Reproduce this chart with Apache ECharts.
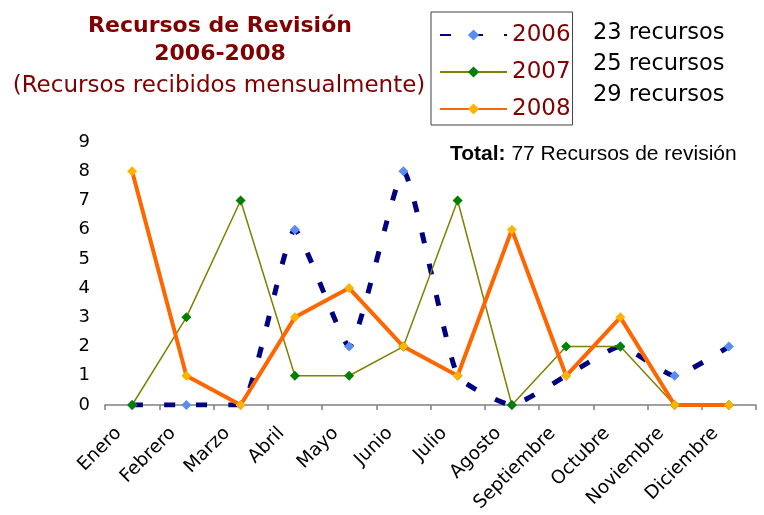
<!DOCTYPE html>
<html>
<head>
<meta charset="utf-8">
<script src="https://cdn.jsdelivr.net/npm/echarts@6/dist/echarts.min.js"></script>
<style>
  html, body { margin: 0; padding: 0; background: #fff; }
  #chart { width: 764px; height: 515px; }
</style>
</head>
<body>
<div id="chart"></div>
<script>
const months = ['Enero', 'Febrero', 'Marzo', 'Abril', 'Mayo', 'Junio', 'Julio', 'Agosto', 'Septiembre', 'Octubre', 'Noviembre', 'Diciembre']
const data2006 = [0, 0, 0, 6, 2, 8, 1, 0, 1, 2, 1, 2]
const data2007 = [0, 3, 7, 1, 1, 2, 7, 0, 2, 2, 0, 0]
const data2008 = [8, 1, 0, 3, 4, 2, 1, 6, 1, 3, 0, 0]
const yearNames = ['2006', '2007', '2008']
const totalsText = ['23 recursos', '25 recursos', '29 recursos']

const font = '"DejaVu Sans", Verdana, sans-serif'
const arial = '"Liberation Sans", Arial, sans-serif'
const dark = '#800000'

const chart = echarts.init(document.getElementById('chart'))

const option = {
  animation: false,
  title: [
    {
      text: 'Recursos de Revisión\n2006-2008',
      left: 215,
      top: 7,
      textAlign: 'center',
      textStyle: { fontFamily: font, fontSize: 22, fontWeight: 'bold', color: dark, lineHeight: 28 }
    },
    {
      text: '(Recursos recibidos mensualmente)',
      left: 214,
      top: 70,
      textAlign: 'center',
      textStyle: { fontFamily: font, fontSize: 23, fontWeight: 'normal', color: dark }
    },
    {
      text: '{b|Total:} 77 Recursos de revisión',
      left: 445,
      top: 139,
      textStyle: {
        fontFamily: arial, fontSize: 21, fontWeight: 'normal', color: '#000',
        rich: { b: { fontFamily: arial, fontSize: 21, fontWeight: 'bold', color: '#000' } }
      }
    }
  ],
  legend: {
    orient: 'vertical',
    left: 431,
    top: 12,
    data: yearNames,
    itemWidth: 67,
    itemHeight: 14,
    itemGap: 11,
    padding: [10, 2, 3, 8],
    borderColor: '#404040',
    borderWidth: 1,
    textStyle: { fontFamily: font, fontSize: 23, lineHeight: 26, color: dark }
  },
  graphic: totalsText.map((t, i) => ({
    type: 'text',
    left: 593,
    top: 22 + i * 31,
    style: { text: t, font: '22.5px ' + font, fill: '#000' }
  })),
  grid: { left: 105, right: 8, top: 142, bottom: 110, outerBoundsMode: 'none' },
  xAxis: {
    type: 'category',
    data: months,
    boundaryGap: true,
    axisLine: { lineStyle: { color: '#808080', width: 1.5 } },
    axisTick: { show: true, length: 5, lineStyle: { color: '#808080', width: 1.5 } },
    axisLabel: { rotate: 45, fontFamily: font, fontSize: 18.5, color: '#000', margin: 12, padding: [0, 19, 0, 0], interval: 0 }
  },
  yAxis: {
    type: 'value',
    min: 0,
    max: 9,
    interval: 1,
    axisLine: { show: false },
    axisTick: { show: false },
    splitLine: { show: false },
    axisLabel: { fontFamily: font, fontSize: 18, color: '#000', margin: 15 }
  },
  series: [
    {
      name: '2006',
      type: 'line',
      data: data2006,
      smooth: 0.15,
      symbol: 'diamond',
      symbolSize: 10,
      lineStyle: { color: '#000080', width: 5, type: [11, 21], cap: 'butt' },
      itemStyle: { color: '#5b8cf0' }
    },
    {
      name: '2007',
      type: 'line',
      data: data2007,
      symbol: 'diamond',
      symbolSize: 10,
      lineStyle: { color: '#808000', width: 1.5 },
      itemStyle: { color: '#008000' }
    },
    {
      name: '2008',
      type: 'line',
      data: data2008,
      symbol: 'diamond',
      symbolSize: 10,
      lineStyle: { color: '#ff6600', width: 4 },
      itemStyle: { color: '#ffb300' }
    }
  ]
}

chart.setOption(option)
window.addEventListener('resize', () => chart.resize())
</script>
</body>
</html>
